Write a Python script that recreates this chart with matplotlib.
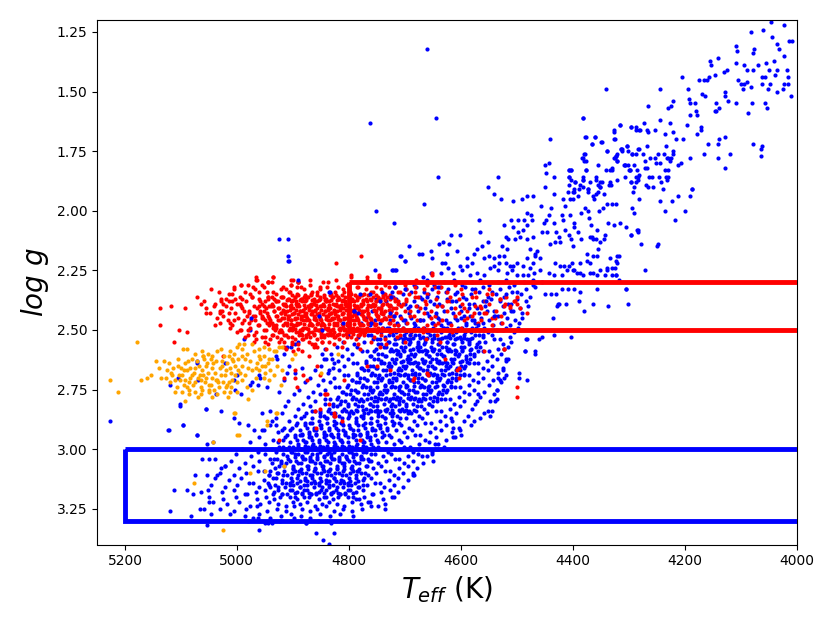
import numpy as np
import matplotlib
matplotlib.use("Agg")
import matplotlib.pyplot as plt
from matplotlib.patches import Rectangle

# ---- data: (Teff, log g) pairs ----
blue_upper = [4046,1.21,4023,1.22,4082,1.25,4059,1.24,4043,1.27,4008,1.29,4013,1.29,4109,1.31,4106,1.33,4076,1.32,4077,1.34,4034,1.30,4031,1.32,4022,1.35,
4155,1.37,4140,1.36,4153,1.39,4109,1.38,4093,1.39,4069,1.39,4055,1.38,4041,1.37,4088,1.41,4078,1.41,4049,1.41,4035,1.41,4017,1.41,4038,1.43,4015,1.44,
4061,1.44,4057,1.44,4104,1.45,4100,1.47,4093,1.47,4088,1.46,4081,1.48,4096,1.49,4061,1.47,4048,1.47,4022,1.47,4016,1.47,4051,1.49,4035,1.50,4024,1.49,
4010,1.52,4130,1.42,4125,1.41,4146,1.43,4156,1.44,4160,1.45,4165,1.45,4175,1.45,4204,1.44,4193,1.49,4128,1.50,4128,1.52,4169,1.51,4163,1.52,4123,1.54,
4109,1.55,4080,1.55,4056,1.55,4052,1.57,4086,1.59,4143,1.55,4143,1.58,4138,1.57,4145,1.58,4192,1.53,4190,1.55,4182,1.55,4180,1.58,4177,1.60,4190,1.60,
4221,1.54,4225,1.56,4229,1.57,4266,1.56,4244,1.49,4340,1.49,4244,1.62,4226,1.63,4196,1.64,4170,1.65,4171,1.66,4178,1.68,4202,1.70,4221,1.67,4235,1.68,
4253,1.66,4268,1.66,4272,1.63,4266,1.67,4279,1.66,4286,1.65,4296,1.65,4315,1.64,4326,1.66,4326,1.70,4360,1.69,4377,1.69,4349,1.71,4366,1.72,4382,1.61,
4158,1.72,4141,1.72,4127,1.69,4138,1.70,4165,1.76,4141,1.78,4119,1.76,4127,1.82,4077,1.72,4064,1.74,4061,1.73,4064,1.77,4190,1.78,4207,1.80,4211,1.81,
4220,1.75,4221,1.76,4229,1.78,4226,1.79,4215,1.70,4233,1.73,4237,1.76,4247,1.76,4251,1.80,4244,1.80,4253,1.78,4262,1.78,4268,1.73,4274,1.76,4270,1.79,
4287,1.76,4294,1.76,4282,1.74,4303,1.73,4311,1.74,4313,1.74,4339,1.75,4325,1.78,4320,1.79,4323,1.77,4307,1.81,4309,1.81,4297,1.83,4300,1.83,4285,1.83,
4270,1.82,4268,1.82,4263,1.86,4258,1.86,4284,1.86,4284,1.87,4295,1.88,4306,1.86,4321,1.87,4331,1.89,4341,1.83,4329,1.82,4354,1.81,4379,1.79,4382,1.78,
4378,1.76,4377,1.83,4407,1.83,4403,1.83,4407,1.86,4396,1.88,4381,1.86,4382,1.87,4369,1.88,4359,1.87,4351,1.88,4351,1.90,4388,1.91,4373,1.91,4408,1.92,
4399,1.92,4269,1.89,4266,1.90,4256,1.90,4239,1.91,4245,1.86,4233,1.86,4229,1.86,4242,1.88,4231,1.87,4235,1.83,4229,1.83,4231,1.78,4224,1.78,4293,1.92,
4291,1.90,4344,1.93,4187,1.91,4199,2.00,4218,2.04,4235,2.00,4191,1.94,4187,1.91,4211,1.94,4222,1.96,4244,1.96,4249,2.15,4247,2.14,4270,2.25,4278,2.14,
4285,2.08,4284,2.09,4296,2.10]

blue_middle = [4644,1.61,4381,1.61,4640,1.86,4440,1.70,4316,1.64,4327,1.67,4325,1.70,4378,1.69,4366,1.72,4360,1.69,4348,1.71,4379,1.76,4383,1.78,4377,1.79,
4339,1.75,4313,1.74,4312,1.75,4303,1.73,4301,1.75,4296,1.65,4287,1.66,4282,1.66,4283,1.74,4294,1.76,4323,1.77,4320,1.76,4326,1.78,4320,1.79,4307,1.81,
4301,1.81,4297,1.83,4290,1.81,4449,1.81,4443,1.80,4448,1.84,4407,1.83,4403,1.83,4376,1.83,4381,1.87,4330,1.83,4334,1.83,4359,1.86,4348,1.88,4335,1.89,
4333,1.88,4287,1.86,4282,1.85,4295,1.88,4287,1.88,4434,1.86,4396,1.88,4407,1.86,4403,1.87,4387,1.89,4381,1.90,4372,1.91,4373,1.92,4354,1.89,4351,1.90,
4358,1.93,4354,1.92,4363,1.94,4362,1.95,4407,1.89,4397,1.91,4397,1.92,4405,1.95,4391,1.94,4434,1.93,4450,1.90,4534,1.86,4552,1.90,4540,1.93,4528,1.95,
4507,1.96,4491,1.95,4482,1.94,4470,1.94,4666,1.97,4719,2.05,4568,2.04,4522,2.06,4510,2.04,4498,2.04,4482,2.01,4474,2.02,4456,1.98,4443,2.02,4439,1.99,
4448,2.04,4452,2.05,4434,2.05,4418,2.04,4413,1.98,4417,1.95,4400,1.95,4419,2.02,4404,2.02,4398,2.07,4398,2.05,4385,2.01,4378,1.99,4373,2.00,4370,2.03,
4353,2.00,4345,1.99,4339,1.97,4329,1.97,4322,1.97,4327,2.06,4316,2.05,4305,2.07,4296,2.10,4284,2.08,4294,1.99,4290,2.01,4281,1.95,4367,2.06,4357,2.08,
4336,2.05,4343,2.10,4413,2.08,4407,2.10,4390,2.09,4385,2.12,4454,2.09,4446,2.09,4430,2.09,4425,2.11,4440,2.14,4432,2.13,4422,2.13,4400,2.15,4403,2.12,
4369,2.11,4363,2.12,4354,2.16,4344,2.12,4333,2.20,4318,2.19,4375,2.18,4363,2.19,4321,2.22,4339,2.24,4324,2.24,4322,2.27,4304,2.33,4387,2.26,4369,2.26,
4397,2.25,4406,2.23,4431,2.22,4422,2.23,4415,2.23,4402,2.22,4400,2.25,4375,2.21,4476,2.16,4468,2.18,4463,2.17,4467,2.19,4458,2.20,4470,2.22,4482,2.20,
4488,2.23,4476,2.24,4469,2.26,4489,2.27,4479,2.27,4512,2.23,4506,2.23,4499,2.22,4518,2.26,4509,2.25,4500,2.27,4482,2.12,4471,2.11,4488,2.08,4487,2.04,
4473,2.04,4482,2.06,4506,2.07,4498,2.09,4494,2.11,4503,2.12,4516,2.12,4519,2.11,4526,2.15,4518,2.16,4522,2.19,4532,2.19,4532,2.22,4541,2.23,4541,2.20,
4550,2.19,4559,2.20,4551,2.13,4562,2.15,4565,2.09,4571,2.16,4577,2.18,4580,2.22,4589,2.20,4588,2.23,4601,2.23,4601,2.10,4617,2.10,4607,2.17,4621,2.14,
4631,2.13,4638,2.14,4625,2.18,4634,2.22,4628,2.22,4622,2.24,4635,2.26,4613,2.26,4598,2.25,4653,2.17,4651,2.20,4669,2.18,4692,2.15,4708,2.19,4699,2.21,
4722,2.25,4717,2.25,4668,2.28,4654,2.26,4583,2.27,4571,2.26,4559,2.27,4547,2.24,4534,2.25,4519,2.22,4434,2.27,4419,2.27,4410,2.25,4393,2.26,4381,2.27,
4363,2.26,4351,2.25,4339,2.25,4330,2.27,4318,2.29,4458,2.25,4443,2.26,4470,2.29,4455,2.30,4369,2.22,4357,2.19,4387,2.22,
4301,2.39,4336,2.40,4364,2.39,4379,2.42,4389,2.38,4412,2.39,4424,2.39,4428,2.40,4436,2.45,4403,2.53,4434,2.52,4455,2.53,4461,2.54,4467,2.60,4486,2.59,
4483,2.54,4496,2.68,4496,2.70,4481,2.71,4356,2.33,4304,2.33,4386,2.34,4398,2.33,4409,2.33,4419,2.33,4429,2.35,4438,2.35,4450,2.35,4426,2.39,4356,2.27,
4342,2.27,4330,2.24,4322,2.27,4321,2.19,4322,2.21,4366,2.11,4358,2.12,4352,2.13]

blue_core = [
4702,2.30,4684,2.31,4661,2.29,4648,2.31,4630,2.30,4612,2.29,4597,2.31,4579,2.30,4566,2.29,4549,2.31,4533,2.30,4520,2.29,4504,2.31,4487,2.30,4471,2.31,
4718,2.32,4697,2.33,4680,2.32,4666,2.34,4651,2.33,4637,2.32,4622,2.33,4606,2.34,4593,2.32,4575,2.33,4561,2.32,4545,2.34,4529,2.33,4514,2.32,4500,2.34,4483,2.33,4468,2.32,
4738,2.35,4721,2.36,4703,2.35,4689,2.34,4672,2.36,4659,2.35,4643,2.36,4627,2.34,4611,2.35,4596,2.36,4582,2.35,4567,2.34,4552,2.36,4537,2.35,4523,2.36,4508,2.34,4493,2.35,4476,2.36,
4751,2.37,4733,2.38,4716,2.37,4700,2.39,4684,2.38,4669,2.37,4655,2.38,4638,2.39,4624,2.37,4609,2.38,4590,2.37,4577,2.39,4561,2.38,4546,2.37,4530,2.38,4515,2.39,4500,2.37,4484,2.38,
4760,2.40,4744,2.41,4727,2.40,4711,2.39,4694,2.41,4679,2.40,4663,2.41,4647,2.39,4633,2.40,4617,2.41,4602,2.40,4586,2.39,4571,2.41,4556,2.40,4541,2.42,4525,2.40,4510,2.39,4494,2.41,4480,2.40,
4758,2.42,4741,2.43,4725,2.42,4708,2.44,4692,2.43,4676,2.42,4661,2.43,4645,2.44,4630,2.42,4614,2.43,4599,2.42,4583,2.44,4568,2.43,4553,2.42,4538,2.44,4522,2.43,4507,2.42,4490,2.43,
4770,2.45,4753,2.46,4736,2.45,4720,2.44,4703,2.46,4688,2.45,4672,2.46,4656,2.44,4641,2.45,4626,2.46,4610,2.45,4595,2.44,4580,2.46,4564,2.45,4549,2.46,4533,2.44,4518,2.45,4503,2.46,4490,2.45,
4779,2.47,4762,2.48,4745,2.47,4729,2.49,4713,2.48,4697,2.47,4682,2.48,4666,2.49,4650,2.47,4636,2.48,4620,2.47,4605,2.49,4590,2.48,4574,2.47,4559,2.49,4543,2.48,4528,2.47,4512,2.48,4497,2.49,
4790,2.50,4772,2.51,4755,2.50,4739,2.49,4722,2.51,4710,2.50,4697,2.51,4684,2.49,4671,2.50,4658,2.51,4645,2.50,4632,2.49,4619,2.51,4606,2.50,4593,2.51,4580,2.49,4566,2.50,4551,2.51,4536,2.50,4520,2.49,4504,2.51,
4801,2.52,4783,2.53,4766,2.52,4750,2.54,4735,2.53,4721,2.52,4708,2.53,4695,2.54,4681,2.52,4668,2.53,4655,2.52,4641,2.54,4628,2.53,4614,2.52,4601,2.53,4588,2.54,4574,2.52,4560,2.53,4545,2.52,4529,2.54,4512,2.53,
4810,2.55,4791,2.56,4773,2.55,4757,2.54,4742,2.56,4729,2.55,4716,2.56,4703,2.54,4690,2.55,4677,2.56,4664,2.55,4651,2.54,4638,2.56,4625,2.55,4612,2.56,4599,2.54,4585,2.55,4571,2.56,4556,2.55,4540,2.54,4524,2.56,4510,2.55,
4822,2.57,4803,2.58,4785,2.57,4768,2.59,4752,2.58,4738,2.57,4725,2.58,4712,2.59,4699,2.57,4686,2.58,4673,2.57,4660,2.59,4647,2.58,4634,2.57,4621,2.58,4608,2.59,4595,2.57,4581,2.58,4566,2.57,4550,2.59,4533,2.58,4515,2.57,
4832,2.60,4812,2.61,4794,2.60,4777,2.59,4761,2.61,4747,2.60,4734,2.61,4721,2.59,4708,2.60,4695,2.61,4682,2.60,4669,2.59,4656,2.61,4643,2.60,4630,2.61,4617,2.59,4604,2.60,4590,2.61,4576,2.60,4561,2.59,4545,2.61,4528,2.60,4516,2.62,
4841,2.62,4820,2.63,4801,2.62,4785,2.64,4769,2.63,4755,2.62,4742,2.63,4729,2.64,4716,2.62,4703,2.63,4690,2.62,4677,2.64,4664,2.63,4651,2.62,4638,2.63,4625,2.64,4612,2.62,4598,2.63,4584,2.62,4569,2.64,4553,2.63,4536,2.62,4519,2.63,
4850,2.65,4828,2.66,4809,2.65,4792,2.64,4777,2.66,4763,2.65,4750,2.66,4737,2.64,4724,2.65,4711,2.66,4698,2.65,4685,2.64,4672,2.66,4659,2.65,4646,2.66,4633,2.64,4620,2.65,4606,2.66,4592,2.65,4577,2.64,4561,2.66,4544,2.65,4524,2.66,
4861,2.67,4838,2.68,4818,2.67,4801,2.69,4786,2.68,4772,2.67,4759,2.68,4746,2.69,4733,2.67,4720,2.68,4707,2.67,4694,2.69,4681,2.68,4668,2.67,4655,2.68,4642,2.69,4629,2.67,4615,2.68,4601,2.67,4586,2.69,4570,2.68,4552,2.67,4533,2.68,4519,2.69,
4870,2.70,4846,2.71,4826,2.70,4809,2.69,4794,2.71,4780,2.70,4767,2.71,4754,2.69,4741,2.70,4728,2.71,4715,2.70,4702,2.69,4689,2.71,4676,2.70,4663,2.71,4650,2.69,4637,2.70,4623,2.71,4609,2.70,4594,2.69,4578,2.71,4561,2.70,4542,2.71,4522,2.70,
4879,2.72,4855,2.73,4834,2.72,4817,2.74,4802,2.73,4788,2.72,4775,2.73,4762,2.74,4749,2.72,4736,2.73,4723,2.72,4710,2.74,4697,2.73,4684,2.72,4671,2.73,4658,2.74,4645,2.72,4631,2.73,4617,2.72,4602,2.74,4586,2.73,4569,2.72,4550,2.73,4528,2.72,
4889,2.75,4864,2.76,4843,2.75,4825,2.74,4810,2.76,4796,2.75,4783,2.76,4770,2.74,4757,2.75,4744,2.76,4731,2.75,4718,2.74,4705,2.76,4692,2.75,4679,2.76,4666,2.74,4653,2.75,4639,2.76,4625,2.75,4610,2.74,4594,2.76,4577,2.75,4558,2.76,4535,2.75,
4898,2.77,4873,2.78,4852,2.77,4834,2.79,4819,2.78,4805,2.77,4792,2.78,4779,2.79,4766,2.77,4753,2.78,4740,2.77,4727,2.79,4714,2.78,4701,2.77,4688,2.78,4675,2.79,4662,2.77,4648,2.78,4634,2.77,4619,2.79,4603,2.78,4586,2.77,4566,2.78,4541,2.77,
4908,2.80,4882,2.81,4861,2.80,4843,2.79,4828,2.81,4814,2.80,4801,2.81,4788,2.79,4775,2.80,4762,2.81,4749,2.80,4736,2.79,4723,2.81,4710,2.80,4697,2.81,4684,2.79,4671,2.80,4657,2.81,4643,2.80,4628,2.79,4612,2.81,4595,2.80,4574,2.81,4548,2.80,
4914,2.82,4890,2.83,4869,2.82,4851,2.84,4836,2.83,4822,2.82,4809,2.83,4796,2.84,4783,2.82,4770,2.83,4757,2.82,4744,2.84,4731,2.83,4718,2.82,4705,2.83,4692,2.84,4679,2.82,4665,2.83,4651,2.82,4636,2.84,4620,2.83,4602,2.82,4580,2.83,4552,2.84,
4920,2.85,4897,2.86,4877,2.85,4860,2.84,4845,2.86,4831,2.85,4818,2.86,4805,2.84,4792,2.85,4779,2.86,4766,2.85,4753,2.84,4740,2.86,4727,2.85,4714,2.86,4701,2.84,4688,2.85,4674,2.86,4660,2.85,4645,2.84,4628,2.86,4609,2.85,4587,2.86,4558,2.85,
4931,2.87,4907,2.88,4886,2.87,4869,2.89,4854,2.88,4840,2.87,4827,2.88,4814,2.89,4801,2.87,4788,2.88,4775,2.87,4762,2.89,4749,2.88,4736,2.87,4723,2.88,4710,2.89,4697,2.87,4683,2.88,4669,2.87,4654,2.89,4637,2.88,4617,2.87,4594,2.88,4565,2.87,
4941,2.90,4916,2.91,4895,2.90,4878,2.89,4863,2.91,4849,2.90,4836,2.91,4823,2.89,4810,2.90,4797,2.91,4784,2.90,4771,2.89,4758,2.91,4745,2.90,4732,2.91,4719,2.89,4706,2.90,4692,2.91,4678,2.90,4663,2.89,4646,2.91,4626,2.90,4604,2.91,4582,2.90,
4952,2.92,4926,2.93,4905,2.92,4887,2.94,4872,2.93,4858,2.92,4845,2.93,4832,2.94,4819,2.92,4806,2.93,4793,2.92,4780,2.94,4767,2.93,4754,2.92,4741,2.93,4728,2.94,4715,2.92,4701,2.93,4687,2.92,4672,2.94,4655,2.93,4636,2.92,4615,2.93,4600,2.94,
4961,2.95,4936,2.96,4914,2.95,4896,2.94,4881,2.96,4867,2.95,4854,2.96,4841,2.94,4828,2.95,4815,2.96,4802,2.95,4789,2.94,4776,2.96,4763,2.95,4750,2.96,4737,2.94,4724,2.95,4710,2.96,4696,2.95,4681,2.94,4664,2.96,4645,2.95,4626,2.96,4610,2.95,
4976,2.97,4949,2.98,4926,2.97,4907,2.99,4891,2.98,4877,2.97,4864,2.98,4851,2.99,4838,2.97,4825,2.98,4812,2.97,4799,2.99,4786,2.98,4773,2.97,4760,2.98,4747,2.99,4734,2.97,4720,2.98,4706,2.97,4691,2.99,4675,2.98,4657,2.97,4640,2.98,4630,2.99,
4990,3.00,4962,3.01,4938,3.00,4918,2.99,4901,3.01,4887,3.00,4874,3.01,4861,2.99,4848,3.00,4835,3.01,4822,3.00,4809,2.99,4796,3.01,4783,3.00,4770,3.01,4757,2.99,4744,3.00,4730,3.01,4716,3.00,4701,2.99,4685,3.01,4668,3.00,4651,3.01,4640,3.00,
5001,3.02,4974,3.03,4950,3.02,4929,3.04,4911,3.03,4896,3.02,4883,3.03,4870,3.04,4857,3.02,4844,3.03,4831,3.02,4818,3.04,4805,3.03,4792,3.02,4779,3.03,4766,3.04,4753,3.02,4739,3.03,4725,3.02,4710,3.04,4694,3.03,4677,3.02,4660,3.03,
5011,3.05,4985,3.06,4961,3.05,4940,3.04,4921,3.06,4905,3.05,4891,3.06,4878,3.04,4865,3.05,4852,3.06,4839,3.05,4826,3.04,4813,3.06,4800,3.05,4787,3.06,4774,3.04,4761,3.05,4747,3.06,4733,3.05,4718,3.04,4702,3.06,4685,3.05,4668,3.06,
5021,3.07,4996,3.08,4972,3.07,4951,3.09,4932,3.08,4915,3.07,4900,3.08,4887,3.09,4874,3.07,4861,3.08,4848,3.07,4835,3.09,4822,3.08,4809,3.07,4796,3.08,4783,3.09,4770,3.07,4756,3.08,4742,3.07,4727,3.09,4711,3.08,4694,3.07,4678,3.08,
5031,3.10,5006,3.11,4983,3.10,4962,3.09,4943,3.11,4926,3.10,4910,3.11,4896,3.09,4883,3.10,4870,3.11,4857,3.10,4844,3.09,4831,3.11,4818,3.10,4805,3.11,4792,3.09,4779,3.10,4765,3.11,4751,3.10,4736,3.09,4720,3.11,4703,3.10,4686,3.11,
5040,3.12,5015,3.13,4992,3.12,4971,3.14,4952,3.13,4935,3.12,4919,3.13,4905,3.14,4892,3.12,4879,3.13,4866,3.12,4853,3.14,4840,3.13,4827,3.12,4814,3.13,4801,3.14,4788,3.12,4774,3.13,4760,3.12,4745,3.14,4729,3.13,4712,3.12,4694,3.13,
5046,3.15,5022,3.16,5000,3.15,4979,3.14,4960,3.16,4943,3.15,4927,3.16,4913,3.14,4900,3.15,4887,3.16,4874,3.15,4861,3.14,4848,3.16,4835,3.15,4822,3.16,4809,3.14,4796,3.15,4782,3.16,4768,3.15,4753,3.14,4737,3.16,4720,3.15,4703,3.16,
5051,3.17,5027,3.18,5005,3.17,4985,3.19,4966,3.18,4949,3.17,4933,3.18,4919,3.19,4906,3.17,4893,3.18,4880,3.17,4867,3.19,4854,3.18,4841,3.17,4828,3.18,4815,3.19,4802,3.17,4788,3.18,4774,3.17,4759,3.19,4743,3.18,4727,3.17,4712,3.18,
5049,3.20,5024,3.21,5002,3.20,4982,3.19,4964,3.21,4948,3.20,4933,3.21,4919,3.19,4906,3.20,4893,3.21,4880,3.20,4867,3.19,4854,3.21,4841,3.20,4828,3.21,4815,3.19,4801,3.20,4787,3.21,4772,3.20,4756,3.19,4739,3.21,4722,3.20,
5043,3.22,5018,3.23,4996,3.22,4976,3.24,4958,3.23,4942,3.22,4927,3.23,4913,3.24,4900,3.22,4887,3.23,4874,3.22,4861,3.24,4848,3.23,4835,3.22,4822,3.23,4808,3.24,4794,3.22,4779,3.23,4763,3.22,4747,3.24,4736,3.23,
5031,3.25,5006,3.26,4984,3.25,4964,3.24,4946,3.26,4929,3.25,4913,3.26,4898,3.24,4884,3.25,4870,3.26,4856,3.25,4841,3.24,4826,3.26,4810,3.25,4794,3.26,4777,3.25,4760,3.24,
5012,3.27,4985,3.28,4961,3.27,4940,3.29,4921,3.28,4903,3.27,4886,3.28,4869,3.29,4852,3.27,4834,3.28,4815,3.27,4793,3.28,
4981,3.30,4950,3.31,4923,3.30,4898,3.29,4876,3.31,4855,3.30,4832,3.31]

blue_dense = [
4727,2.46,4714,2.47,4699,2.46,4684,2.47,4668,2.46,4652,2.47,4637,2.46,4622,2.47,4607,2.46,4591,2.47,4576,2.46,4561,2.47,
4731,2.49,4717,2.50,4703,2.49,4690,2.50,4676,2.49,4663,2.50,4650,2.49,4637,2.50,4624,2.49,4611,2.50,4598,2.49,4585,2.50,4572,2.49,4558,2.50,
4742,2.51,4728,2.52,4715,2.51,4701,2.52,4688,2.51,4675,2.52,4661,2.51,4648,2.52,4635,2.51,4621,2.52,4608,2.51,4595,2.52,4581,2.51,4567,2.52,
4745,2.54,4730,2.55,4717,2.54,4704,2.55,4690,2.54,4677,2.55,4664,2.54,4651,2.55,4637,2.54,4624,2.55,4611,2.54,4597,2.55,4583,2.54,4568,2.55,
4747,2.56,4733,2.57,4719,2.56,4706,2.57,4692,2.56,4679,2.57,4666,2.56,4653,2.57,4640,2.56,4626,2.57,4613,2.56,4600,2.57,4586,2.56,4572,2.57,
4755,2.59,4741,2.60,4727,2.59,4714,2.60,4701,2.59,4688,2.60,4675,2.59,4662,2.60,4649,2.59,4636,2.60,4623,2.59,4610,2.60,4597,2.59,4583,2.60,4569,2.59,
4762,2.61,4748,2.62,4735,2.61,4722,2.62,4709,2.61,4696,2.62,4683,2.61,4670,2.62,4657,2.61,4644,2.62,4631,2.61,4618,2.62,4605,2.61,4591,2.62,4577,2.61,
4770,2.64,4756,2.65,4743,2.64,4730,2.65,4717,2.64,4704,2.65,4691,2.64,4678,2.65,4665,2.64,4652,2.65,4639,2.64,4626,2.65,4613,2.64,4599,2.65,4585,2.64,
4778,2.66,4765,2.67,4752,2.66,4739,2.67,4726,2.66,4713,2.67,4700,2.66,4687,2.67,4674,2.66,4661,2.67,4648,2.66,4635,2.67,4622,2.66,4608,2.67,4594,2.66,
4786,2.69,4773,2.70,4760,2.69,4747,2.70,4734,2.69,4721,2.70,4708,2.69,4695,2.70,4682,2.69,4669,2.70,4656,2.69,4643,2.70,4630,2.69,4616,2.70,4602,2.69,
4795,2.71,4781,2.72,4768,2.71,4755,2.72,4742,2.71,4729,2.72,4716,2.71,4703,2.72,4690,2.71,4677,2.72,4664,2.71,4651,2.72,4638,2.71,4624,2.72,4609,2.71,
4803,2.74,4789,2.75,4776,2.74,4763,2.75,4750,2.74,4737,2.75,4724,2.74,4711,2.75,4698,2.74,4685,2.75,4672,2.74,4659,2.75,4646,2.74,4632,2.75,4617,2.74,
4812,2.76,4798,2.77,4785,2.76,4772,2.77,4759,2.76,4746,2.77,4733,2.76,4720,2.77,4707,2.76,4694,2.77,4681,2.76,4668,2.77,4655,2.76,4641,2.77,4626,2.76,
4821,2.79,4807,2.80,4794,2.79,4781,2.80,4768,2.79,4755,2.80,4742,2.79,4729,2.80,4716,2.79,4703,2.80,4690,2.79,4677,2.80,4664,2.79,4650,2.80,4635,2.79,
4843,2.81,4829,2.82,4815,2.81,4802,2.82,4789,2.81,4776,2.82,4763,2.81,4750,2.82,4737,2.81,4724,2.82,4711,2.81,4698,2.82,4685,2.81,4671,2.82,4656,2.81,
4866,2.84,4852,2.85,4838,2.84,4825,2.85,4812,2.84,4799,2.85,4786,2.84,4773,2.85,4760,2.84,4747,2.85,4734,2.84,4721,2.85,4708,2.84,4694,2.85,4680,2.84,
4880,2.86,4866,2.87,4852,2.86,4839,2.87,4826,2.86,4813,2.87,4800,2.86,4787,2.87,4774,2.86,4761,2.87,4748,2.86,4735,2.87,4722,2.86,4708,2.87,
4893,2.89,4879,2.90,4865,2.89,4852,2.90,4839,2.89,4826,2.90,4813,2.89,4800,2.90,4787,2.89,4774,2.90,4761,2.89,4748,2.90,4735,2.89,4721,2.90,
4902,2.91,4888,2.92,4875,2.91,4862,2.92,4849,2.91,4836,2.92,4823,2.91,4810,2.92,4797,2.91,4784,2.92,4771,2.91,4758,2.92,4745,2.91,4731,2.92,
4910,2.94,4897,2.95,4884,2.94,4871,2.95,4858,2.94,4845,2.95,4832,2.94,4819,2.95,4806,2.94,4793,2.95,4780,2.94,4767,2.95,4754,2.94,4740,2.95,
4918,2.96,4905,2.97,4892,2.96,4879,2.97,4866,2.96,4853,2.97,4840,2.96,4827,2.97,4814,2.96,4801,2.97,4788,2.96,4775,2.97,4762,2.96,4748,2.97,
4925,2.99,4912,3.00,4899,2.99,4886,3.00,4873,2.99,4860,3.00,4847,2.99,4834,3.00,4821,2.99,4808,3.00,4795,2.99,4782,3.00,4769,2.99,4755,3.00,
4930,3.01,4917,3.02,4904,3.01,4891,3.02,4878,3.01,4865,3.02,4852,3.01,4839,3.02,4826,3.01,4813,3.02,4800,3.01,4787,3.02,4774,3.01,4760,3.02,
4934,3.04,4921,3.05,4908,3.04,4895,3.05,4882,3.04,4869,3.05,4856,3.04,4843,3.05,4830,3.04,4817,3.05,4804,3.04,4791,3.05,4778,3.04,4764,3.05,
4938,3.06,4925,3.07,4912,3.06,4899,3.07,4886,3.06,4873,3.07,4860,3.06,4847,3.07,4834,3.06,4821,3.07,4808,3.06,4795,3.07,4782,3.06,4768,3.07,
4941,3.09,4928,3.10,4915,3.09,4902,3.10,4889,3.09,4876,3.10,4863,3.09,4850,3.10,4837,3.09,4824,3.10,4811,3.09,4798,3.10,4785,3.09,4771,3.10,
4943,3.11,4930,3.12,4917,3.11,4904,3.12,4891,3.11,4878,3.12,4865,3.11,4852,3.12,4839,3.11,4826,3.12,4813,3.11,4800,3.12,4787,3.11,4773,3.12,
4945,3.14,4932,3.15,4919,3.14,4906,3.15,4893,3.14,4880,3.15,4867,3.14,4854,3.15,4841,3.14,4828,3.15,4815,3.14,4802,3.15,4789,3.14,4775,3.15,
4940,3.16,4927,3.17,4914,3.16,4901,3.17,4888,3.16,4875,3.17,4862,3.16,4849,3.17,4836,3.16,4823,3.17,4810,3.16,4797,3.17,4784,3.16,
4936,3.19,4923,3.20,4910,3.19,4897,3.20,4884,3.19,4871,3.20,4858,3.19,4845,3.20,4832,3.19,4819,3.20,4806,3.19,4793,3.20]

blue_dense2 = [
4712,2.535,4699,2.535,4686,2.535,4673,2.535,4660,2.535,4647,2.535,4634,2.535,4620,2.535,4607,2.535,4594,2.535,4580,2.535,
4716,2.585,4703,2.585,4690,2.585,4677,2.585,4664,2.585,4651,2.585,4638,2.585,4624,2.585,4611,2.585,4598,2.585,4584,2.585,
4720,2.635,4707,2.635,4694,2.635,4681,2.635,4668,2.635,4655,2.635,4642,2.635,4628,2.635,4615,2.635,4602,2.635,4588,2.635,
4726,2.685,4713,2.685,4700,2.685,4687,2.685,4674,2.685,4661,2.685,4648,2.685,4634,2.685,4621,2.685,4608,2.685,4594,2.685,
4735,2.735,4722,2.735,4709,2.735,4696,2.735,4683,2.735,4670,2.735,4657,2.735,4643,2.735,4630,2.735,4617,2.735,
4760,2.785,4747,2.785,4734,2.785,4721,2.785,4708,2.785,4695,2.785,4682,2.785,4668,2.785,4655,2.785,4642,2.785,
4788,2.835,4775,2.835,4762,2.835,4749,2.835,4736,2.835,4723,2.835,4710,2.835,4697,2.835,4684,2.835,
4884,2.935,4871,2.935,4858,2.935,4845,2.935,4832,2.935,4819,2.935,4806,2.935,4793,2.935,4780,2.935,4767,2.935,
4891,2.985,4878,2.985,4865,2.985,4852,2.985,4839,2.985,4826,2.985,4813,2.985,4800,2.985,4787,2.985,4774,2.985,
4896,3.035,4883,3.035,4870,3.035,4857,3.035,4844,3.035,4831,3.035,4818,3.035,4805,3.035,4792,3.035,4779,3.035,
4899,3.085,4886,3.085,4873,3.085,4860,3.085,4847,3.085,4834,3.085,4821,3.085,4808,3.085,4795,3.085,4782,3.085,
4901,3.135,4888,3.135,4875,3.135,4862,3.135,4849,3.135,4836,3.135,4823,3.135,4810,3.135,4797,3.135,4784,3.135,
4897,3.185,4884,3.185,4871,3.185,4858,3.185,4845,3.185,4832,3.185,4819,3.185,4806,3.185,4793,3.185]

blue_scatter = [4660,1.32,4763,1.63,4751,2.00,4924,2.12,4908,2.12,4909,2.19,4908,2.21,4707,2.19,4700,2.21,4753,2.25,4721,2.25,4716,2.25,4890,2.30,4674,2.18,
5226,2.88,5122,2.92,5096,2.90,5101,2.82,5071,2.94,5056,2.83,4987,2.54,4976,2.50,5071,2.63,5072,2.64,5105,2.70,5119,2.73,5069,2.71,5038,2.77,5022,2.64,
5006,2.71,5000,2.69,5004,2.75,4992,2.77,4973,2.72,4976,2.73,4962,2.73,4958,2.70,4961,2.69,4946,2.74,4925,2.76,4916,2.71,4928,2.62,4931,2.61,4916,2.60,
4910,2.57,4904,2.57,4896,2.56,4890,2.55,4907,2.65,4910,2.68,4896,2.68,4884,2.66,5101,2.81,5056,2.83,5029,2.84,5096,2.90,5071,2.94,5123,2.92,5006,2.87,
4997,2.89,4980,2.90,4970,2.92,4955,2.92,4956,2.85,4940,2.84,4937,2.88,4931,2.90,4919,2.92,4842,2.58,4830,2.62,4836,2.67,4827,2.64,4845,2.62,4848,2.60,
4960,3.34,4945,3.31,4937,3.31,4876,3.31,4859,3.35,4847,3.38,4835,3.40,4827,3.35,4972,3.29,4963,3.29,5053,3.32,5120,3.26,5082,3.28,5066,3.25,5058,3.25,
5049,3.22,5046,3.27,5112,3.17,5089,3.17,5078,3.19,5065,3.18,5074,3.11,5053,3.11,5035,3.11,5062,3.04,5050,3.04,5040,3.04,5028,3.08,5022,3.07,5053,2.98,
5043,2.97,4686,3.10,4683,3.11,4650,3.05,4645,3.00,4735,3.25,4765,3.22,4782,3.21,4720,3.20,4522,2.58,4519,2.62,4524,2.67,4533,2.70,4530,2.71,4535,2.75,
4538,2.80,4535,2.79,4544,2.84,4547,2.86,4576,2.88,4571,2.80,4570,2.77,4613,2.95,4601,2.92,4613,2.91,4616,2.88,4646,2.98,4651,3.02,4669,3.03,4482,2.54,
4485,2.59,4467,2.59]

blue_front = [4974,2.45,4890,2.29,4907,2.21,4854,2.44,4848,2.50,4833,2.34,4790,2.42,4760,2.47,4745,2.38,4720,2.44,4700,2.50,4690,2.40,4672,2.46,4660,2.36,
4645,2.43,4630,2.49,4615,2.38,4600,2.45,4585,2.41,4570,2.48,4555,2.38,4540,2.44,4525,2.50,4510,2.42,4495,2.47,4725,2.36,4700,2.33,4640,2.32,4580,2.33,
4760,2.52,4810,2.47,4780,2.35,4690,2.52,4625,2.53,4560,2.52,4520,2.35,4762,2.35,4791,2.42,4783,2.43,4727,2.43,4741,2.34,4722,2.34,4718,2.32,4836,2.34]

red_clump = [
4935,2.28,4904,2.29,4890,2.30,4870,2.29,4846,2.30,4823,2.29,4796,2.28,4768,2.29,4746,2.28,4710,2.30,4680,2.29,4651,2.27,4965,2.29,4945,2.30,
4992,2.31,4972,2.32,4955,2.31,4937,2.30,4918,2.32,4903,2.31,4885,2.32,4870,2.31,4852,2.32,4837,2.30,4820,2.32,4803,2.31,4786,2.32,4770,2.30,4752,2.32,4735,2.31,4718,2.32,4700,2.31,4682,2.32,4660,2.31,4635,2.32,4610,2.31,
5006,2.33,4986,2.34,4968,2.33,4951,2.32,4936,2.34,4921,2.33,4907,2.34,4893,2.32,4880,2.33,4866,2.34,4852,2.33,4839,2.32,4825,2.34,4811,2.33,4798,2.34,4784,2.32,4770,2.33,4756,2.34,4742,2.33,4728,2.32,4713,2.34,4698,2.33,4682,2.34,4665,2.33,4646,2.32,4625,2.34,4600,2.33,4575,2.34,4550,2.33,
5015,2.35,4995,2.36,4977,2.35,4960,2.34,4945,2.36,4931,2.35,4918,2.36,4905,2.34,4892,2.35,4880,2.36,4868,2.35,4856,2.34,4844,2.36,4832,2.35,4820,2.36,4808,2.34,4796,2.35,4784,2.36,4772,2.35,4760,2.34,4748,2.36,4735,2.35,4722,2.36,4708,2.34,4693,2.35,4677,2.36,4660,2.35,4641,2.34,4620,2.36,4597,2.35,4572,2.36,4545,2.35,4520,2.36,
5028,2.37,5008,2.38,4990,2.37,4973,2.36,4958,2.38,4944,2.37,4931,2.38,4919,2.36,4907,2.37,4895,2.38,4884,2.37,4873,2.36,4862,2.38,4851,2.37,4840,2.38,4829,2.36,4818,2.37,4807,2.38,4796,2.37,4785,2.36,4774,2.38,4763,2.37,4751,2.38,4739,2.36,4726,2.37,4712,2.38,4697,2.37,4681,2.36,4664,2.38,4645,2.37,4624,2.38,4603,2.37,4580,2.36,4556,2.38,4530,2.37,4505,2.38,
5040,2.39,5019,2.40,5000,2.39,4984,2.38,4969,2.40,4955,2.39,4942,2.40,4930,2.38,4918,2.39,4906,2.40,4895,2.39,4884,2.38,4873,2.40,4862,2.39,4851,2.40,4840,2.38,4829,2.39,4818,2.40,4807,2.39,4796,2.38,4785,2.40,4774,2.39,4763,2.40,4751,2.38,4739,2.39,4726,2.40,4712,2.39,4697,2.38,4680,2.40,4662,2.39,4642,2.40,4620,2.38,4598,2.39,4574,2.40,4549,2.39,4522,2.40,4500,2.39,
5055,2.41,5030,2.42,5010,2.41,4993,2.40,4978,2.42,4964,2.41,4951,2.42,4939,2.40,4927,2.41,4915,2.42,4904,2.41,4893,2.40,4882,2.42,4871,2.41,4860,2.42,4849,2.40,4838,2.41,4827,2.42,4816,2.41,4805,2.40,4794,2.42,4783,2.41,4772,2.42,4760,2.40,4748,2.41,4735,2.42,4721,2.41,4706,2.40,4690,2.42,4672,2.41,4653,2.42,4633,2.40,4611,2.41,4588,2.42,4563,2.41,4537,2.42,4512,2.41,
5048,2.43,5025,2.44,5004,2.43,4987,2.42,4972,2.44,4958,2.43,4945,2.44,4933,2.42,4921,2.43,4909,2.44,4898,2.43,4887,2.42,4876,2.44,4865,2.43,4854,2.44,4843,2.42,4832,2.43,4821,2.44,4810,2.43,4799,2.42,4788,2.44,4777,2.43,4766,2.44,4754,2.42,4742,2.43,4729,2.44,4715,2.43,4700,2.42,4684,2.44,4666,2.43,4646,2.44,4625,2.42,4603,2.43,4579,2.44,4554,2.43,4528,2.44,
5036,2.45,5016,2.46,4998,2.45,4982,2.44,4967,2.46,4953,2.45,4940,2.46,4928,2.44,4916,2.45,4904,2.46,4893,2.45,4882,2.44,4871,2.46,4860,2.45,4849,2.46,4838,2.44,4827,2.45,4816,2.46,4805,2.45,4794,2.44,4783,2.46,4772,2.45,4760,2.46,4748,2.44,4735,2.45,4721,2.46,4706,2.45,4690,2.44,4673,2.46,4654,2.45,4633,2.46,4611,2.44,4588,2.45,4563,2.46,4538,2.45,
5030,2.47,5008,2.48,4990,2.47,4974,2.46,4960,2.48,4947,2.47,4935,2.48,4923,2.46,4911,2.47,4899,2.48,4888,2.47,4877,2.46,4866,2.48,4855,2.47,4844,2.48,4833,2.46,4822,2.47,4811,2.48,4800,2.47,4789,2.46,4778,2.48,4766,2.47,4754,2.48,4741,2.46,4727,2.47,4712,2.48,4696,2.47,4679,2.46,4660,2.48,4640,2.47,4618,2.48,4595,2.46,4570,2.47,4545,2.48,
5012,2.49,4993,2.50,4977,2.49,4962,2.48,4948,2.50,4935,2.49,4923,2.50,4911,2.48,4899,2.49,4887,2.50,4876,2.49,4865,2.48,4854,2.50,4843,2.49,4832,2.50,4821,2.48,4810,2.49,4798,2.50,4786,2.49,4774,2.48,4761,2.50,4748,2.49,4734,2.50,4719,2.48,4703,2.49,4686,2.50,4667,2.49,4646,2.48,4624,2.50,4600,2.49,4575,2.50,
5000,2.51,4981,2.52,4965,2.51,4951,2.50,4938,2.52,4925,2.51,4913,2.52,4901,2.50,4889,2.51,4877,2.52,4866,2.51,4855,2.50,4844,2.52,4833,2.51,4821,2.52,4809,2.50,4797,2.51,4784,2.52,4771,2.51,4757,2.50,4742,2.52,4726,2.51,4709,2.52,4690,2.50,4668,2.51,4643,2.52,4615,2.51,
4985,2.53,4966,2.54,4950,2.53,4936,2.52,4922,2.54,4909,2.53,4896,2.54,4883,2.52,4870,2.53,4857,2.54,4844,2.53,4831,2.52,4817,2.54,4803,2.53,4788,2.54,4772,2.52,4755,2.53,4736,2.54,4714,2.53,4690,2.52,4662,2.54,
4970,2.55,4945,2.56,4925,2.55,4901,2.56,4884,2.54,4865,2.56,4848,2.55,4827,2.56,4808,2.55,4784,2.56,4760,2.55,4733,2.56,4700,2.55,
4916,2.57,4890,2.58,4862,2.57,4840,2.58,4812,2.57,4780,2.58,4745,2.57]

red_dense = [
4945,2.36,4933,2.37,4921,2.36,4909,2.37,4897,2.36,4886,2.37,4875,2.36,4863,2.37,4852,2.36,4841,2.37,4830,2.36,4818,2.37,4806,2.36,4794,2.37,4782,2.36,4770,2.37,4757,2.36,4744,2.37,4731,2.36,4718,2.37,
4950,2.38,4938,2.39,4926,2.38,4914,2.39,4902,2.38,4890,2.39,4879,2.38,4868,2.39,4857,2.38,4846,2.39,4835,2.38,4823,2.39,4812,2.38,4801,2.39,4790,2.38,4779,2.39,4768,2.38,4756,2.39,4744,2.38,4731,2.39,4718,2.38,4704,2.39,
4960,2.40,4948,2.41,4936,2.40,4924,2.41,4912,2.40,4900,2.41,4889,2.40,4878,2.41,4867,2.40,4856,2.41,4845,2.40,4833,2.41,4822,2.40,4811,2.41,4800,2.40,4789,2.41,4778,2.40,4767,2.41,4755,2.40,4742,2.41,4729,2.40,4715,2.41,
4958,2.42,4946,2.43,4934,2.42,4922,2.43,4910,2.42,4898,2.43,4887,2.42,4876,2.43,4865,2.42,4854,2.43,4843,2.42,4832,2.43,4821,2.42,4810,2.43,4799,2.42,4788,2.43,4777,2.42,4765,2.43,4752,2.42,4739,2.43,4725,2.42,
4955,2.44,4943,2.45,4931,2.44,4919,2.45,4907,2.44,4896,2.45,4885,2.44,4874,2.45,4863,2.44,4852,2.45,4841,2.44,4830,2.45,4819,2.44,4808,2.45,4797,2.44,4786,2.45,4775,2.44,4763,2.45,4750,2.44,4737,2.45,4722,2.44,
4950,2.46,4938,2.47,4926,2.46,4914,2.47,4903,2.46,4892,2.47,4881,2.46,4870,2.47,4859,2.46,4848,2.47,4837,2.46,4826,2.47,4815,2.46,4804,2.47,4793,2.46,4781,2.47,4769,2.46,4756,2.47,4742,2.46,4728,2.47,
4942,2.48,4930,2.49,4918,2.48,4906,2.49,4894,2.48,4882,2.49,4871,2.48,4860,2.49,4849,2.48,4838,2.49,4827,2.48,4816,2.49,4804,2.48,4792,2.49,4780,2.48,4767,2.49,4754,2.48,4740,2.49,
4932,2.50,4920,2.51,4907,2.50,4895,2.51,4883,2.50,4871,2.51,4860,2.50,4849,2.51,4838,2.50,4827,2.51,4815,2.50,4803,2.51,4790,2.50,4777,2.51,4764,2.50,4750,2.51,
4915,2.52,4902,2.53,4889,2.52,4876,2.53,4863,2.52,4850,2.53,4837,2.52,4824,2.53,4810,2.52,4796,2.53,4781,2.52]

red_dense2 = [
4902,2.355,4890,2.355,4879,2.355,4867,2.355,4856,2.355,4845,2.355,4834,2.355,4823,2.355,4812,2.355,4800,2.355,4789,2.355,4777,2.355,4765,2.355,4752,2.355,4739,2.355,4726,2.355,
4911,2.375,4899,2.375,4888,2.375,4876,2.375,4865,2.375,4854,2.375,4843,2.375,4832,2.375,4821,2.375,4810,2.375,4798,2.375,4786,2.375,4774,2.375,4761,2.375,4748,2.375,4735,2.375,
4915,2.395,4903,2.395,4892,2.395,4880,2.395,4869,2.395,4858,2.395,4847,2.395,4836,2.395,4825,2.395,4814,2.395,4803,2.395,4791,2.395,4779,2.395,4766,2.395,4753,2.395,4740,2.395,4727,2.395,
4917,2.415,4905,2.415,4894,2.415,4882,2.415,4871,2.415,4860,2.415,4849,2.415,4838,2.415,4827,2.415,4816,2.415,4805,2.415,4793,2.415,4781,2.415,4768,2.415,4755,2.415,4742,2.415,4729,2.415,
4914,2.435,4902,2.435,4891,2.435,4879,2.435,4868,2.435,4857,2.435,4846,2.435,4835,2.435,4824,2.435,4813,2.435,4802,2.435,4790,2.435,4778,2.435,4765,2.435,4752,2.435,4739,2.435,
4909,2.455,4897,2.455,4886,2.455,4874,2.455,4863,2.455,4852,2.455,4841,2.455,4830,2.455,4819,2.455,4808,2.455,4797,2.455,4785,2.455,4773,2.455,4760,2.455,4747,2.455,4734,2.455,
4903,2.475,4891,2.475,4880,2.475,4868,2.475,4857,2.475,4846,2.475,4835,2.475,4824,2.475,4813,2.475,4802,2.475,4790,2.475,4778,2.475,4765,2.475,4752,2.475,
4896,2.495,4884,2.495,4873,2.495,4861,2.495,4850,2.495,4839,2.495,4828,2.495,4817,2.495,4806,2.495,4794,2.495,4782,2.495,4769,2.495,4756,2.495,
4885,2.515,4873,2.515,4862,2.515,4850,2.515,4839,2.515,4828,2.515,4817,2.515,4805,2.515,4793,2.515,4780,2.515]

red_wide = [5138,2.41,5118,2.40,5093,2.41,5138,2.48,5103,2.50,5089,2.51,5113,2.55,5072,2.36,5064,2.39,5056,2.43,5058,2.38,5046,2.33,5032,2.34,5041,2.40,
5040,2.48,5028,2.38,5024,2.39,5027,2.42,5030,2.43,5019,2.37,5015,2.38,5006,2.32,5009,2.35,4992,2.31,4980,2.31,5003,2.37,4994,2.39,5015,2.43,5006,2.46,
5012,2.47,4965,2.28,4945,2.30,4935,2.28,4973,2.36,4961,2.37,4952,2.40,4946,2.34,4937,2.36,4991,2.41,4979,2.43,4967,2.44,4988,2.46,4978,2.47,4956,2.45,
4994,2.50,4981,2.50,4970,2.52,4955,2.53,4950,2.55,4940,2.54,4928,2.53,4922,2.50,4931,2.48,4943,2.47,4913,2.33,4904,2.31,4899,2.29,4890,2.30,4896,2.36,
4903,2.38,4916,2.55,4901,2.55,4890,2.56,4881,2.54,4872,2.55,4860,2.56,4848,2.55,4836,2.55,4827,2.53,4857,2.57,4913,2.58,4899,2.59,4884,2.59,4872,2.61,
4779,2.19,4823,2.22,4964,2.29,4944,2.30,4796,2.27,4746,2.27,4768,2.28,4651,2.26,
4530,2.37,4521,2.39,4512,2.40,4503,2.38,4494,2.41,4482,2.43,4527,2.47,4544,2.45,4559,2.43,4577,2.43,4565,2.40,4595,2.41,4500,2.36,4553,2.35]

red_scatter = [5024,2.61,4897,2.67,4896,2.70,4881,2.69,4875,2.71,4916,2.70,4893,2.74,4857,2.65,4842,2.77,4836,2.81,4827,2.85,4522,2.58,4628,2.62,4660,2.68,
4684,2.70,4726,2.67,4750,2.65,4768,2.65,4809,2.71,4839,2.77,4851,2.69,4860,2.84,4812,2.88,4827,2.86,4500,2.74,4499,2.78,4607,2.67,4637,2.55,4924,2.96,
4858,2.91,4825,2.86,4780,2.96,4842,2.77,4851,2.83,4559,2.59,4604,2.66,4604,2.70,4658,2.69,4685,2.71,4523,2.58]

orange_pts = [5178,2.55,5226,2.71,5212,2.76,5171,2.71,5160,2.70,5153,2.69,5144,2.63,5131,2.63,5122,2.64,5127,2.70,5116,2.69,5104,2.69,5110,2.71,5119,2.72,
5107,2.74,5111,2.76,5098,2.76,5093,2.80,5097,2.58,5089,2.58,5080,2.62,5074,2.60,5063,2.59,5061,2.61,5092,2.64,5083,2.66,5095,2.67,5077,2.68,5068,2.65,
5062,2.67,5053,2.64,5047,2.62,5044,2.66,5044,2.61,5035,2.59,5029,2.58,5023,2.61,5015,2.61,5009,2.62,5003,2.65,5018,2.64,5012,2.66,5092,2.71,5083,2.70,
5074,2.72,5065,2.71,5056,2.70,5050,2.73,5038,2.71,5029,2.69,5021,2.69,5086,2.75,5074,2.76,5065,2.74,5050,2.76,5041,2.75,5032,2.74,5023,2.76,5012,2.76,
5018,2.73,5009,2.71,5003,2.69,4994,2.68,4991,2.65,4985,2.62,4982,2.60,4991,2.58,5000,2.57,4997,2.56,4988,2.56,4973,2.56,4961,2.58,4952,2.57,4943,2.58,
4934,2.59,4925,2.57,4919,2.57,4943,2.62,4952,2.61,4964,2.64,4973,2.67,4961,2.67,4949,2.65,4940,2.67,4928,2.65,4919,2.67,4934,2.69,4943,2.71,4952,2.70,
4973,2.75,4982,2.74,4922,2.73,4902,2.62,4896,2.60,5004,2.85,4980,2.79,4929,2.85,4997,2.94,5077,3.14,5025,3.34,4976,3.10,4949,3.09,4916,3.07,5043,2.97,
5000,2.94,5006,2.85,4946,2.88,4931,2.85,4946,2.90,4850,2.68,4820,2.60,5060,2.69,5045,2.70,5030,2.66,5070,2.70,5085,2.72,5040,2.68,5055,2.65,5025,2.72,
5010,2.68,5000,2.72,4990,2.71,4980,2.66,4965,2.70,5075,2.66,5100,2.66,5115,2.66,5050,2.75,5035,2.77,5062,2.75,5095,2.73,5005,2.60,4960,2.61,4955,2.65,
4945,2.64,
5105,2.62,5098,2.69,5088,2.63,5081,2.69,5072,2.63,5066,2.69,5058,2.62,5051,2.68,5042,2.64,5036,2.71,5027,2.63,5020,2.67,5014,2.72,5007,2.63,4998,2.67,
4990,2.61,4985,2.69,4977,2.63,4970,2.59,4966,2.66,4958,2.62,4950,2.68,4937,2.62,4930,2.59,5125,2.67,5135,2.70,5140,2.66,5102,2.71,5090,2.74,5078,2.73,
5064,2.77,5057,2.72,5046,2.73,5033,2.72,5020,2.74,5010,2.74,5000,2.76,5016,2.78,5045,2.78,5070,2.78,5085,2.77,5060,2.61,5052,2.60,5038,2.63,5026,2.65,
5013,2.59,4998,2.62,5105,2.65,5118,2.68,5090,2.67]

# selection boxes: (Teff_left, logg_top, Teff_right, logg_bottom)
red_box = (4800, 2.30, 3900, 2.50)
blue_box = (5200, 3.00, 3900, 3.30)

xticks = [5200, 5000, 4800, 4600, 4400, 4200, 4000]
yticks = [1.25, 1.50, 1.75, 2.00, 2.25, 2.50, 2.75, 3.00, 3.25]


def xy(flat):
    a = np.array(flat, dtype=float).reshape(-1, 2)
    return a[:, 0], a[:, 1]


fig = plt.figure(figsize=(8.30, 6.23), dpi=100)
ax = fig.add_axes([97 / 830, 1 - 544.5 / 623, 699.5 / 830, 524.5 / 623])

kw = dict(s=9, linewidths=0)
for arr in (blue_upper, blue_middle, blue_core, blue_dense, blue_dense2, blue_scatter):
    x, y = xy(arr)
    ax.scatter(x, y, color="blue", **kw)
for arr in (red_clump, red_dense, red_dense2, red_wide, red_scatter):
    x, y = xy(arr)
    ax.scatter(x, y, color="red", **kw)
x, y = xy(orange_pts)
ax.scatter(x, y, color="orange", **kw)
x, y = xy(blue_front)
ax.scatter(x, y, color="blue", **kw)

for (t0, g0, t1, g1), col in ((red_box, "red"), (blue_box, "blue")):
    ax.add_patch(Rectangle((t0, g0), t1 - t0, g1 - g0, fill=False,
                           edgecolor=col, linewidth=3.5, zorder=5))

ax.set_xlim(5250, 4000)
ax.set_ylim(3.4, 1.2)
ax.set_xticks(xticks)
ax.set_yticks(yticks)
ax.set_yticklabels([f"{v:.2f}" for v in yticks])
ax.tick_params(labelsize=10)
ax.set_xlabel(r"$T_{eff}$ (K)", fontsize=20)
ax.set_ylabel(r"$log\ g$", fontsize=20)

fig.savefig("out.png", dpi=100)
